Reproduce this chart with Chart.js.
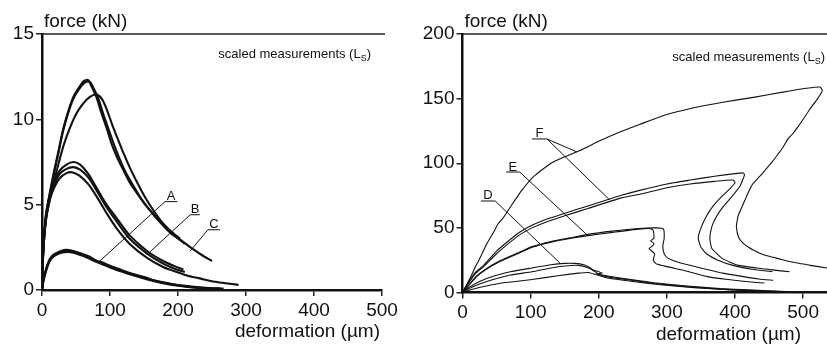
<!DOCTYPE html>
<html>
<head>
<meta charset="utf-8">
<script src="https://cdn.jsdelivr.net/npm/chart.js@4"></script>
<style>
  html, body { margin: 0; padding: 0; background: #fff; }
  #wrap { position: relative; width: 827px; height: 345px; }
  #left { position: absolute; left: 0; top: 0; }
  #right { position: absolute; left: 413px; top: 0; }
</style>
</head>
<body>
<div id="wrap">
  <canvas id="left" width="413" height="345"></canvas>
  <canvas id="right" width="414" height="345"></canvas>
</div>
<script>
// Left panel: deformation (µm), force (kN)
const curveA1 = [[0,0],[2,0.6],[4,0.95],[8,1.5],[12,1.85],[18,2.1],[26,2.25],[34,2.35],[45,2.3],[60,2.1],[70,1.95],[80,1.72],[90,1.6],[100,1.42],[115,1.2],[129,1.0],[142,0.85],[155,0.7],[166,0.55],[178,0.45],[190,0.35],[200,0.28],[214,0.2],[227,0.15],[250,0.1],[267,0.08]];
const curveA2 = [[0,0],[2,0.5],[4,0.85],[8,1.4],[12,1.75],[18,2.0],[26,2.15],[34,2.22],[45,2.2],[60,2.0],[80,1.65],[100,1.32],[114,1.12],[129,0.92],[155,0.62],[178,0.4],[200,0.25],[230,0.12],[250,0.08]];
const curveA3 = [[0,0],[2,0.55],[5,1.0],[10,1.6],[16,1.95],[24,2.15],[32,2.27],[42,2.25],[60,2.05],[80,1.68],[105,1.3],[130,0.95],[160,0.6],[190,0.35],[220,0.2],[245,0.12],[262,0.1]];
const curveB1 = [[0,0],[1,1.5],[2,2.6],[4,3.6],[7,4.6],[12,5.6],[18,6.4],[26,7.0],[36,7.35],[46,7.5],[56,7.35],[68,6.8],[80,6.0],[95,5.0],[110,4.2],[129,3.2],[154,2.3],[178,1.7],[195,1.4],[208,1.2]];
const curveB2 = [[0,0],[1,1.4],[2,2.5],[4,3.5],[7,4.5],[12,5.5],[18,6.2],[26,6.8],[36,7.1],[46,7.2],[56,7.05],[68,6.6],[80,5.85],[95,4.85],[110,4.0],[129,3.0],[154,2.15],[178,1.55],[195,1.25],[210,1.05]];
const curveB3 = [[0,0],[1,1.3],[2,2.4],[4,3.4],[7,4.4],[12,5.35],[18,6.0],[26,6.55],[36,6.85],[44,6.9],[55,6.7],[68,6.2],[80,5.5],[95,4.5],[110,3.6],[129,2.7],[154,1.9],[178,1.35],[195,1.1],[213,0.85],[232,0.68],[252,0.5],[270,0.4],[289,0.3]];
const curveC1 = [[0,0],[1,1.6],[3,3.2],[6,4.5],[12,5.8],[18,7.0],[24,8.1],[31,9.4],[38,10.4],[46,11.3],[55,11.9],[62,12.25],[68,12.3],[72,12.0],[80,11.3],[88,10.3],[95,9.5],[102,8.6],[110,7.8],[120,7.0],[129,6.3],[141,5.6],[154,4.9],[170,4.2],[188,3.5],[203,3.0]];
const curveC2 = [[0,0],[1,1.5],[3,3.0],[6,4.4],[12,5.7],[18,6.9],[24,8.0],[31,9.3],[38,10.3],[46,11.2],[55,11.8],[63,12.15],[70,12.2],[75,11.9],[83,11.2],[91,10.2],[99,9.3],[106,8.5],[114,7.7],[123,6.9],[133,6.2],[145,5.4],[158,4.7],[173,4.0],[190,3.3],[205,2.9],[220,2.45],[235,2.05],[250,1.7]];
const curveC3 = [[0,0],[1,1.4],[3,2.9],[6,4.2],[12,5.4],[18,6.4],[25,7.5],[32,8.5],[40,9.4],[50,10.3],[60,10.9],[70,11.3],[80,11.45],[88,11.2],[96,10.5],[104,9.6],[112,8.8],[120,8.0],[130,7.1],[140,6.3],[152,5.4],[165,4.6],[180,3.8],[195,3.2],[210,2.7]];

// Right panel
const curveD1 = [[0,0],[10,4],[25,8.5],[45,12.5],[70,16],[102,19],[130,21.5],[150,22.5],[165,22.5],[178,21.5],[186,19.5],[192,17.5],[200,16],[205,15],[196,14.5],[205,13.5],[234,11],[282,7.5],[330,5],[378,3],[420,2],[476,0.8]];
const curveD2 = [[0,0],[10,3],[25,6.5],[45,10],[70,13.5],[102,16],[130,19],[150,20.5],[170,21],[185,19],[195,16],[200,14],[210,12.5],[240,10],[282,7],[330,4.5],[378,2.5],[430,1.3],[480,0.5]];
const curveD3 = [[0,0],[15,2.5],[35,5],[60,7.5],[102,10],[140,13],[170,15],[185,15.5],[195,14],[215,11],[250,8.5],[290,6],[340,3.8],[390,2.2],[450,0.9],[510,0.3]];
const curveE1 = [[0,0],[10,6],[20,12],[35,18],[55,24],[85,31],[102,35],[130,39],[160,42],[184,44],[220,46.5],[258,49],[275,49.5],[280,48],[281,42],[276,40],[281,38],[279,36],[274,34],[282,30],[280,25],[285,22],[300,20],[330,16.5],[358,12.5],[390,10],[420,8.3],[443,7.3]];
const curveE2 = [[0,0],[10,6.2],[20,12.5],[35,18.5],[55,24.5],[85,31.5],[102,35.5],[130,39.5],[160,42.5],[184,45],[220,47.5],[258,49.5],[285,50],[295,49],[296,42],[294,36],[296,30],[300,27],[319,23],[350,19],[382,15],[410,12.5],[435,10.5],[456,9.5]];
const curveF1 = [[0,0],[8,7],[18,15],[31,21],[50,32],[70,41],[85,47],[102,52],[125,57],[148,61],[184,67],[232,75],[260,79],[300,84],[334,87],[370,90],[400,92],[412,92.5],[414,91],[407,82],[395,74],[382,66],[372,58],[366,51],[363,42],[366,34],[382,26],[405,21],[432,19],[455,17.5],[480,16]];
const curveF2 = [[0,0],[8,6.5],[18,14],[31,20],[50,30],[70,39],[85,45],[102,50],[125,55],[148,59],[184,65],[232,73],[260,76],[300,81],[334,84],[370,86],[397,87],[400,85],[392,80],[380,74],[368,67],[358,59],[350,50],[346,42],[350,35],[358,30],[375,25],[397,21],[425,18],[455,16]];
const curveF3 = [[0,0],[5,5],[12,12],[20,21],[26,27],[35,37],[45,46],[52,53],[60,58],[70,66],[87,79],[105,90],[130,100],[150,105],[173,110],[200,117],[230,124],[260,130],[290,136],[309,139],[340,143],[380,147],[427,151],[470,155],[505,158],[525,159],[528,156],[520,149],[510,142],[500,134],[492,128],[485,123],[478,119],[470,112],[463,107],[456,102],[448,97],[440,92],[433,88],[426,84],[420,78],[415,72],[410,66],[405,60],[403,55],[402,51],[405,43],[412,38],[420,35],[426,33],[438,30],[450,28],[465,26],[480,24],[495,22.5],[510,21],[535,19]];

const leftCurves = [curveA1, curveA2, curveA3, curveB1, curveB2, curveB3, curveC1, curveC2, curveC3];
const rightCurves = [curveD1, curveD2, curveD3, curveE1, curveE2, curveF1, curveF2, curveF3];

const leftYTicks = [0, 5, 10, 15];
const rightYTicks = [0, 50, 100, 150, 200];
const xTicks = [0, 100, 200, 300, 400, 500];

Chart.defaults.font.family = "'Liberation Sans', Arial, sans-serif";
Chart.defaults.color = "#111";

const FONT = "'Liberation Sans', Arial, sans-serif";

// Extra text: titles, top frame line, curve labels with leader lines
const annotPlugin = {
    id: "annot",
    afterDraw(chart, args, opts) {
        const { ctx, chartArea } = chart;
        const xs = chart.scales.x;
        const ys = chart.scales.y;
        ctx.save();
        ctx.strokeStyle = "#222";
        ctx.lineWidth = 1.5;
        ctx.beginPath();
        ctx.moveTo(chartArea.left, chartArea.top);
        ctx.lineTo(opts.topRight, chartArea.top);
        ctx.stroke();

        ctx.fillStyle = "#111";
        ctx.font = "19px " + FONT;
        ctx.textAlign = "left";
        ctx.textBaseline = "alphabetic";
        ctx.fillText("force (kN)", chartArea.left + 2, 27);
        ctx.textAlign = "right";
        ctx.fillText("deformation (\u00b5m)", opts.xTitleRight, opts.xTitleBase);

        // scaled measurements (L_S)
        ctx.font = "13px " + FONT;
        const tail = ")";
        const wTail = ctx.measureText(tail).width;
        ctx.font = "9px " + FONT;
        const wSub = ctx.measureText("S").width;
        let xr = opts.noteRight;
        ctx.font = "13px " + FONT;
        ctx.fillText(tail, xr, opts.noteBase);
        xr -= wTail;
        ctx.font = "9px " + FONT;
        ctx.fillText("S", xr, opts.noteBase + 3);
        xr -= wSub;
        ctx.font = "13px " + FONT;
        ctx.fillText("scaled measurements (L", xr, opts.noteBase);

        // curve labels
        ctx.lineWidth = 1;
        ctx.strokeStyle = "#111";
        ctx.font = "13px " + FONT;
        ctx.textAlign = "center";
        ctx.textBaseline = "alphabetic";
        opts.labels.forEach((lb) => {
            const ux0 = xs.getPixelForValue(lb.under[0]);
            const ux1 = xs.getPixelForValue(lb.under[1]);
            const uy = ys.getPixelForValue(lb.under[2]);
            ctx.fillText(lb.text, (ux0 + ux1) / 2, uy - 1.5);
            ctx.beginPath();
            ctx.moveTo(ux0, uy);
            ctx.lineTo(ux1, uy);
            const sx = lb.fromRight ? ux1 : ux0;
            lb.to.forEach((p) => {
                ctx.moveTo(sx, uy);
                ctx.lineTo(xs.getPixelForValue(p[0]), ys.getPixelForValue(p[1]));
            });
            ctx.stroke();
        });
        ctx.restore();
    },
};

function makeDatasets(curves, width, tension) {
    return curves.map((c) => ({
        data: c.map((p) => ({ x: p[0], y: p[1] })),
        showLine: true,
        borderColor: "#111",
        borderWidth: width,
        pointRadius: 0,
        tension: tension,
        fill: false,
    }));
}

function makeOptions(cfg) {
    return {
        responsive: false,
        animation: false,
        layout: { padding: cfg.padding },
        plugins: {
            legend: { display: false },
            tooltip: { enabled: false },
            annot: cfg.annot,
        },
        scales: {
            x: {
                type: "linear",
                min: 0,
                max: cfg.xMax,
                afterBuildTicks: (scale) => {
                    scale.ticks = xTicks.map((v) => ({ value: v }));
                },
                afterFit: (scale) => {
                    scale.height = cfg.xHeight;
                },
                ticks: {
                    font: { size: 19 },
                    color: "#111",
                    padding: 3,
                    maxRotation: 0,
                    autoSkip: false,
                },
                grid: {
                    drawOnChartArea: false,
                    drawTicks: true,
                    tickLength: 6,
                    color: "#222",
                    lineWidth: 1.5,
                },
                border: { color: "#111", width: 2.5 },
            },
            y: {
                type: "linear",
                min: 0,
                max: cfg.yMax,
                afterBuildTicks: (scale) => {
                    scale.ticks = cfg.yTicks.map((v) => ({ value: v }));
                },
                afterFit: (scale) => {
                    scale.width = cfg.yWidth;
                },
                ticks: {
                    font: { size: 19 },
                    color: "#111",
                    padding: 2,
                    autoSkip: false,
                },
                grid: {
                    drawOnChartArea: false,
                    drawTicks: true,
                    tickLength: 6,
                    color: "#222",
                    lineWidth: 1.5,
                },
                border: { color: "#111", width: 2.5 },
            },
        },
    };
}

new Chart(document.getElementById("left").getContext("2d"), {
    type: "scatter",
    data: { datasets: makeDatasets(leftCurves, 2.1, 0.3) },
    options: makeOptions({
        padding: { top: 34, right: 31, left: 0, bottom: 0 },
        xMax: 500,
        yMax: 15,
        yTicks: leftYTicks,
        xHeight: 55,
        yWidth: 42,
        annot: {
            topRight: 385,
            xTitleRight: 380,
            xTitleBase: 337,
            noteRight: 371,
            noteBase: 58,
            labels: [
                { text: "A", under: [181, 199, 5.18], to: [[82, 1.59]] },
                { text: "B", under: [218, 232, 4.41], to: [[159, 2.24]] },
                { text: "C", under: [244, 262, 3.53], to: [[218, 2.29]] },
            ],
        },
    }),
    plugins: [annotPlugin],
});

new Chart(document.getElementById("right").getContext("2d"), {
    type: "scatter",
    data: { datasets: makeDatasets(rightCurves, 1.1, 0.15) },
    options: makeOptions({
        padding: { top: 34, right: 0, left: 0, bottom: 0 },
        xMax: 535,
        yMax: 200,
        yTicks: rightYTicks,
        xHeight: 52.5,
        yWidth: 49.5,
        annot: {
            topRight: 414,
            xTitleRight: 388,
            xTitleBase: 340,
            noteRight: 412,
            noteBase: 61,
            labels: [
                { text: "D", under: [27, 48, 70.8], fromRight: true, to: [[143, 22.8]] },
                { text: "E", under: [64, 84, 93.2], fromRight: true, to: [[183, 44.5]] },
                { text: "F", under: [102, 124, 118.8], fromRight: true, to: [[168, 108.7], [216, 71.6]] },
            ],
        },
    }),
    plugins: [annotPlugin],
});
</script>
</body>
</html>
